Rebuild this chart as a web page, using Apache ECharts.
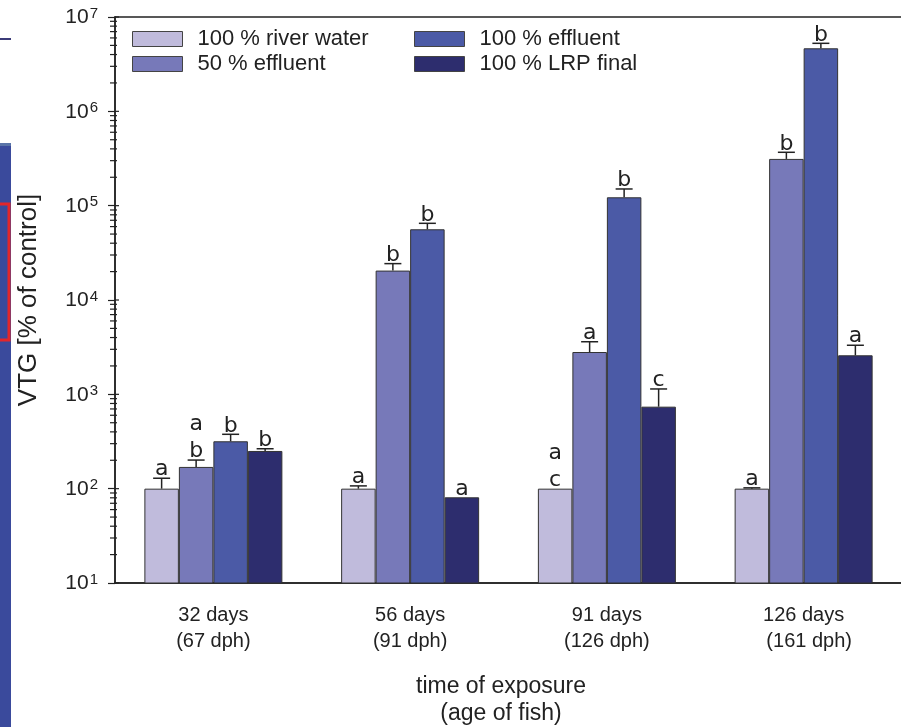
<!DOCTYPE html>
<html>
<head>
<meta charset="utf-8">
<script src="https://cdn.jsdelivr.net/npm/echarts@6/dist/echarts.min.js"></script>
<style>html,body{margin:0;padding:0;background:#fff;}#c{width:901px;height:727px;}</style>
</head>
<body>
<div id="c"></div>
<script>
// ---- data ----
const categories = ['32 days\n(67 dph)', '56 days\n(91 dph)', '91 days\n(126 dph)', '126 days\n\u00a0\u00a0(161 dph)'];
const seriesNames = ['100 % river water', '50 % effluent', '100 % effluent', '100 % LRP final'];
const riverWater = [100, 100, 100, 100];
const riverWaterErr = [129, 107, null, 102];
const effluent50 = [170, 20500, 2810, 313000];
const effluent50Err = [201, 24300, 3610, 368000];
const effluent100 = [318, 56200, 122700, 4660000];
const effluent100Err = [377, 65000, 150300, 5260000];
const lrpFinal = [251, 81, 740, 2594];
const lrpFinalErr = [265, null, 1140, 3313];
const riverWaterLetters = ['a', 'a', 'a\nc', 'a'];
const effluent50Letters = ['a\nb', 'b', 'a', 'b'];
const effluent100Letters = ['b', 'b', 'b', 'b'];
const lrpFinalLetters = ['b', 'a', 'c', 'a'];
const yExponents = [1, 2, 3, 4, 5, 6, 7];
const minorMultipliers = [2, 3, 4, 5, 6, 7, 8, 9];

// ---- style ----
const colors = ['#c0bbdc', '#7779b9', '#4b5aa6', '#2d2d6e'];
const BAR_W = 34.5;
const FONT = '"Liberation Sans", Arial, sans-serif';
const values = [riverWater, effluent50, effluent100, lrpFinal];
const errs = [riverWaterErr, effluent50Err, effluent100Err, lrpFinalErr];
const letters = [riverWaterLetters, effluent50Letters, effluent100Letters, lrpFinalLetters];

const chart = echarts.init(document.getElementById('c'), null, {renderer: 'canvas'});

const barSeries = values.map((v, s) => ({
  type: 'bar', name: seriesNames[s], data: v, barWidth: BAR_W, barGap: '0%', clip: true,
  itemStyle: {color: colors[s], borderColor: '#333', borderWidth: 1}, z: 2
}));

const annoSeries = values.map((v, s) => ({
  type: 'custom', silent: true, z: 5,
  data: v.map((val, i) => [i, val]),
  renderItem: function (params, api) {
    const idx = params.dataIndex;
    const c = api.coord([idx, api.value(1)]);
    const x = c[0] + (s - 1.5) * BAR_W;
    let yc = c[1];
    const children = [];
    const e = errs[s][idx];
    if (e != null) {
      const ye = api.coord([idx, e])[1];
      children.push({type: 'line', shape: {x1: x, y1: c[1], x2: x, y2: ye}, style: {stroke: '#222', lineWidth: 1.5}});
      children.push({type: 'line', shape: {x1: x - 8.5, y1: ye, x2: x + 8.5, y2: ye}, style: {stroke: '#222', lineWidth: 1.5}});
      yc = ye;
    }
    children.push({type: 'text', style: {text: letters[s][idx], x: x, y: yc + 5, align: 'center', verticalAlign: 'bottom',
      fontSize: 22, fontFamily: '"DejaVu Sans", sans-serif', fill: '#222', lineHeight: 27}});
    return {type: 'group', children: children};
  }
}));

const tickData = [];
yExponents.forEach(e => tickData.push([0, Math.pow(10, e), 1]));
yExponents.slice(0, -1).forEach(e => minorMultipliers.forEach(m => tickData.push([0, m * Math.pow(10, e), 0])));

const tickSeries = {
  type: 'custom', silent: true, z: 6, data: tickData,
  renderItem: function (params, api) {
    const y = api.coord([0, api.value(1)])[1];
    const x0 = params.coordSys.x;
    const major = api.value(2) === 1;
    return {type: 'line', shape: {x1: major ? x0 : x0 - 5, y1: y, x2: x0 + (major ? 4 : 2), y2: y},
      style: {stroke: '#222', lineWidth: 1.2}};
  }
};

const legendCommon = {
  orient: 'vertical', itemWidth: 50, itemHeight: 15, itemGap: 3, icon: 'rect', padding: 0,
  itemStyle: {borderColor: '#444', borderWidth: 1},
  textStyle: {fontSize: 22, fontFamily: FONT, color: '#222', padding: [0, 0, 0, 10], lineHeight: 15},
  selectedMode: false
};

chart.setOption({
  animation: false,
  backgroundColor: '#fff',
  grid: {left: 115, top: 17, width: 787, height: 566, outerBoundsMode: 'none', containLabel: false,
    show: true, borderColor: '#222', borderWidth: 1.5, backgroundColor: 'transparent'},
  legend: [
    Object.assign({left: 132, top: 28, data: [seriesNames[0], seriesNames[1]]}, legendCommon),
    Object.assign({left: 414, top: 28, data: [seriesNames[2], seriesNames[3]]}, legendCommon)
  ],
  xAxis: {
    type: 'category', data: categories,
    axisLine: {lineStyle: {color: '#222', width: 1.5}},
    axisTick: {alignWithLabel: true, length: 8, lineStyle: {color: '#222', width: 1.2}},
    axisLabel: {fontSize: 20, fontFamily: FONT, color: '#222', lineHeight: 26, margin: 19},
    name: 'time of exposure\n(age of fish)', nameLocation: 'middle', nameGap: 90,
    nameTextStyle: {fontSize: 23, fontFamily: FONT, color: '#222', lineHeight: 27, padding: [0, 15, 0, 0]}
  },
  yAxis: {
    type: 'log', logBase: 10, min: 10, max: 1e7,
    axisLine: {show: true, lineStyle: {color: '#222', width: 1.5}},
    axisTick: {show: true, length: 7, lineStyle: {color: '#222', width: 1.2}},
    splitLine: {show: false},
    axisLabel: {
      margin: 17,
      formatter: function (v) { return '{b|10}{s|' + Math.round(Math.log10(v)) + '}'; },
      rich: {
        b: {fontSize: 21, fontFamily: FONT, color: '#222', lineHeight: 22, verticalAlign: 'bottom'},
        s: {fontSize: 15, fontFamily: FONT, color: '#222', lineHeight: 22, verticalAlign: 'top', padding: [0, 0, 8, 1]}
      }
    },
    name: 'VTG [% of control]', nameLocation: 'middle', nameGap: 73,
    nameTextStyle: {fontSize: 26, fontFamily: FONT, color: '#222'}
  },
  graphic: [
    {type: 'rect', shape: {x: 0, y: 143, width: 11, height: 584}, style: {fill: '#3a4a9c'}, z: 100},
    {type: 'rect', shape: {x: 0, y: 143, width: 11, height: 3}, style: {fill: '#5a74a8'}, z: 101},
    {type: 'rect', shape: {x: -6, y: 204, width: 15, height: 136}, style: {fill: 'none', stroke: '#e3262b', lineWidth: 3}, z: 102},
    {type: 'line', shape: {x1: 0, y1: 39, x2: 11, y2: 39}, style: {stroke: '#3b3b78', lineWidth: 2}, z: 100}
  ],
  series: barSeries.concat(annoSeries, [tickSeries])
});
</script>
</body>
</html>
